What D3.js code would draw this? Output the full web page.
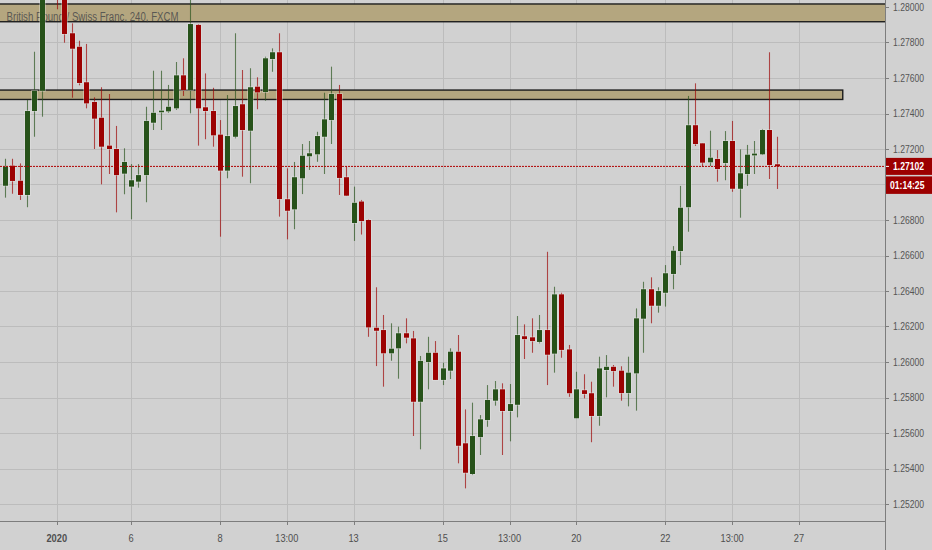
<!DOCTYPE html>
<html><head><meta charset="utf-8">
<script src="https://cdn.jsdelivr.net/npm/d3@7/dist/d3.min.js"></script>
<style>html,body{margin:0;padding:0;background:#d1d1d1;overflow:hidden}</style>
</head><body>
<svg id="c" width="932" height="550"></svg>
<script>
// ---- data (GBP/CHF, 240 min, FXCM) ----
const opens = [1.26993,1.27106,1.27021,1.26941,1.27414,1.27528,1.28090,1.28120,1.28060,1.27852,
1.27776,1.27576,1.27465,1.27376,1.27219,1.27200,1.27061,1.26988,1.27016,1.27053,
1.27348,1.27407,1.27412,1.27429,1.27615,1.27532,1.27899,1.27435,1.27414,1.27281,
1.27078,1.27269,1.27452,1.27303,1.27551,1.27521,1.27707,1.27745,1.26917,1.26860,
1.27035,1.27159,1.27170,1.27269,1.27363,1.27510,1.27041,1.26783,1.26904,1.26800,
1.26193,1.26180,1.26049,1.26077,1.26162,1.26133,1.25776,1.26000,1.26052,1.25899,
1.25951,1.26058,1.25542,1.25369,1.25577,1.25673,1.25782,1.25846,1.25724,1.25759,
1.26145,1.26139,1.26113,1.26180,1.26047,1.26381,1.26071,1.25683,1.25841,1.25824,
1.25696,1.25955,1.25973,1.25951,1.25825,1.25936,1.26244,1.26410,1.26317,1.26390,
1.26496,1.26625,1.26872,1.27334,1.27232,1.27125,1.27144,1.27121,1.27245,1.26976,
1.27059,1.27164,1.27170,1.27307,1.27114];
const highs = [1.27145,1.27145,1.27119,1.27476,1.27748,1.28120,1.28160,1.28180,1.28080,1.27908,
1.27810,1.27792,1.27491,1.27548,1.27510,1.27330,1.27204,1.27115,1.27115,1.27438,
1.27641,1.27641,1.27561,1.27690,1.27711,1.28045,1.27904,1.27626,1.27545,1.27363,
1.27504,1.27852,1.27645,1.27655,1.27604,1.27720,1.27767,1.27852,1.27091,1.27127,
1.27228,1.27245,1.27297,1.27517,1.27664,1.27561,1.27104,1.26988,1.26913,1.26804,
1.26421,1.26265,1.26218,1.26199,1.26246,1.26175,1.26034,1.26142,1.26118,1.25996,
1.26077,1.26152,1.25733,1.25771,1.25701,1.25870,1.25893,1.25880,1.25876,1.26259,
1.26212,1.26246,1.26265,1.26621,1.26424,1.26390,1.26096,1.25945,1.25931,1.25889,
1.26030,1.26039,1.25983,1.25976,1.26030,1.26302,1.26452,1.26477,1.26421,1.26546,
1.26653,1.26992,1.27499,1.27570,1.27232,1.27303,1.27194,1.27301,1.27358,1.27198,
1.27223,1.27245,1.27313,1.27745,1.27269];
const lows = [1.26926,1.26948,1.26913,1.26872,1.27269,1.27382,1.28050,1.27987,1.27799,1.27489,
1.27559,1.27429,1.27200,1.27001,1.27059,1.26843,1.26945,1.26804,1.26982,1.26900,
1.27307,1.27307,1.27404,1.27420,1.27499,1.27401,1.27219,1.27255,1.27213,1.26706,
1.27035,1.27260,1.27044,1.27007,1.27424,1.27472,1.27635,1.26819,1.26691,1.26748,
1.26946,1.27082,1.27128,1.27059,1.27228,1.26941,1.26935,1.26682,1.26718,1.26142,
1.25977,1.25861,1.26007,1.25906,1.26105,1.25583,1.25508,1.25846,1.25899,1.25870,
1.25904,1.25429,1.25288,1.25363,1.25476,1.25635,1.25754,1.25476,1.25553,1.25688,
1.26017,1.26052,1.26105,1.25870,1.25940,1.26024,1.25804,1.25683,1.25795,1.25548,
1.25641,1.25801,1.25861,1.25782,1.25750,1.25726,1.26052,1.26218,1.26278,1.26312,
1.26410,1.26546,1.26734,1.27217,1.27100,1.27104,1.27016,1.27024,1.26959,1.26813,
1.26992,1.27059,1.27166,1.27031,1.26975];
const closes = [1.27100,1.27020,1.26941,1.27414,1.27528,1.28090,1.28130,1.28060,1.27848,1.27765,
1.27572,1.27457,1.27371,1.27213,1.27200,1.27053,1.27127,1.27024,1.27053,1.27358,
1.27404,1.27416,1.27438,1.27615,1.27532,1.27904,1.27429,1.27414,1.27277,1.27078,
1.27273,1.27442,1.27307,1.27548,1.27519,1.27711,1.27745,1.26918,1.26852,1.27041,
1.27162,1.27176,1.27273,1.27367,1.27510,1.27037,1.26937,1.26897,1.26794,1.26195,
1.26176,1.26049,1.26075,1.26162,1.26137,1.25776,1.26006,1.26052,1.25899,1.25964,
1.26058,1.25528,1.25376,1.25583,1.25677,1.25786,1.25846,1.25724,1.25763,1.26152,
1.26129,1.26118,1.26180,1.26041,1.26381,1.26068,1.25824,1.25846,1.25820,1.25696,
1.25964,1.25973,1.25949,1.25825,1.25940,1.26246,1.26410,1.26317,1.26400,1.26500,
1.26627,1.26869,1.27334,1.27228,1.27123,1.27151,1.27087,1.27245,1.26976,1.27063,
1.27168,1.27174,1.27307,1.27110,1.27102];

const priceTicks = [1.252,1.254,1.256,1.258,1.260,1.262,1.264,1.266,1.268,1.270,1.272,1.274,1.276,1.278,1.280];
const timeTickIndex = [7,17,29,38,47,59,68,77,89,98,107];
const timeTickLabels = ["2020","6","8","13:00","13","15","13:00","20","22","13:00","27"];
const zoneLow  = [1.27917, 1.27479];
const zoneHigh = [1.28017, 1.27532];
const zoneEndIndex = [null, 112.9];
const lastPrice = 1.27102;
const countdown = "01:14:25";
const title = "British Pound / Swiss Franc, 240, FXCM";

// ---- layout ----
const W = 932, H = 550, plotW = 885, plotH = 521;
const svg = d3.select("#c");
const x = d3.scaleLinear().domain([0, opens.length - 1]).range([4.8, 776.7]);
const y = d3.scaleLinear().domain([1.252, 1.28]).range([504, 7]);
const GREEN = "#27521a", RED = "#9c0202";
const FONT = "'Liberation Sans', Arial, sans-serif";

svg.append("rect").attr("width", W).attr("height", H).attr("fill", "#d1d1d1");

const defs = svg.append("defs");
defs.append("clipPath").attr("id", "plot").append("rect")
  .attr("x", 0).attr("y", 0).attr("width", plotW).attr("height", plotH);

const plot = svg.append("g").attr("clip-path", "url(#plot)");

// grid
plot.append("g").selectAll("line").data(priceTicks).join("line")
  .attr("x1", 0).attr("x2", plotW)
  .attr("y1", d => Math.round(y(d)) + 0.5).attr("y2", d => Math.round(y(d)) + 0.5)
  .attr("stroke", "#bcbcbc").attr("stroke-width", 1);
plot.append("g").selectAll("line").data(timeTickIndex).join("line")
  .attr("x1", d => Math.round(x(d)) + 0.5).attr("x2", d => Math.round(x(d)) + 0.5)
  .attr("y1", 0).attr("y2", plotH)
  .attr("stroke", "#bcbcbc").attr("stroke-width", 1);

// zones
const zones = zoneLow.map((lo, i) => ({lo, hi: zoneHigh[i], end: zoneEndIndex[i]}));
plot.append("g").selectAll("rect").data(zones).join("rect")
  .attr("x", -2)
  .attr("width", d => (d.end === null ? plotW + 2 : x(d.end)) + 2)
  .attr("y", d => y(d.hi))
  .attr("height", d => y(d.lo) - y(d.hi))
  .attr("fill", "#b4a67f").attr("stroke", "#1c1c1c").attr("stroke-width", 1.4);

// title
const t = plot.append("text").attr("x", 6.5).attr("y", 20.5)
  .attr("font-family", FONT).attr("font-size", 12.5).attr("fill", "#4e4e4e")
  .attr("fill-opacity", 0.9).text(title);
t.attr("textLength", 172).attr("lengthAdjust", "spacingAndGlyphs");

// candles
const candles = opens.map((o, i) => ({i, o, h: highs[i], l: lows[i], c: closes[i]}));
const cg = plot.append("g");
const bw = 5;
cg.selectAll("line.wick").data(candles).join("line").attr("class", "wick")
  .attr("x1", d => Math.round(x(d.i)) + 0.5).attr("x2", d => Math.round(x(d.i)) + 0.5)
  .attr("y1", d => y(d.h)).attr("y2", d => y(d.l))
  .attr("stroke", d => d.c >= d.o ? GREEN : RED).attr("stroke-opacity", 0.68)
  .attr("stroke-width", 1.1);
cg.selectAll("rect.halo").data(candles).join("rect").attr("class", "halo")
  .attr("x", d => Math.round(x(d.i)) + 0.5 - bw / 2 - 0.8)
  .attr("width", bw + 1.6)
  .attr("y", d => y(Math.max(d.o, d.c)) - 0.8)
  .attr("height", d => Math.max(1, Math.abs(y(d.o) - y(d.c))) + 1.6)
  .attr("fill", "#ececec").attr("fill-opacity", 0.45);
cg.selectAll("rect.body").data(candles).join("rect").attr("class", "body")
  .attr("x", d => Math.round(x(d.i)) + 0.5 - bw / 2)
  .attr("width", bw)
  .attr("y", d => y(Math.max(d.o, d.c)))
  .attr("height", d => Math.max(1.2, Math.abs(y(d.o) - y(d.c))))
  .attr("fill", d => d.c >= d.o ? GREEN : RED);

// last price line
plot.append("line").attr("x1", 0).attr("x2", plotW)
  .attr("y1", y(lastPrice)).attr("y2", y(lastPrice))
  .attr("stroke", "#b00000").attr("stroke-width", 1).attr("stroke-dasharray", "2,1");

// axes lines
svg.append("line").attr("x1", 0).attr("x2", plotW).attr("y1", plotH + 0.5).attr("y2", plotH + 0.5)
  .attr("stroke", "#7d7d7d").attr("stroke-width", 1);
svg.append("line").attr("x1", plotW + 0.5).attr("x2", plotW + 0.5).attr("y1", 0).attr("y2", H)
  .attr("stroke", "#7d7d7d").attr("stroke-width", 1);

function squeeze(sel, f) {
  sel.each(function () {
    const len = this.getComputedTextLength();
    d3.select(this).attr("textLength", len * f).attr("lengthAdjust", "spacingAndGlyphs");
  });
}

// price label boxes region (labels that collide with it are hidden, like the reference)
const ly = y(lastPrice);
const boxTop = ly - 8.5, boxBottom = ly + 27.5;
const visibleTicks = priceTicks.filter(d => y(d) + 5 < boxTop || y(d) - 5 > boxBottom);

// right axis
const ra = svg.append("g");
ra.selectAll("line").data(priceTicks).join("line")
  .attr("x1", plotW + 1).attr("x2", plotW + 4)
  .attr("y1", d => Math.round(y(d)) + 0.5).attr("y2", d => Math.round(y(d)) + 0.5)
  .attr("stroke", "#7d7d7d");
const rl = ra.selectAll("text").data(visibleTicks).join("text")
  .attr("x", 893).attr("y", d => y(d)).attr("dy", "0.36em")
  .attr("font-family", FONT).attr("font-size", 10).attr("fill", "#555")
  .text(d => d3.format(".5f")(d));
squeeze(rl, 0.86);

// bottom axis
const ba = svg.append("g");
ba.selectAll("line").data(timeTickIndex).join("line")
  .attr("x1", d => Math.round(x(d)) + 0.5).attr("x2", d => Math.round(x(d)) + 0.5)
  .attr("y1", plotH + 1).attr("y2", plotH + 4).attr("stroke", "#7d7d7d");
const bl = ba.selectAll("text").data(timeTickIndex).join("text")
  .attr("x", d => x(d)).attr("y", 541.5).attr("text-anchor", "middle")
  .attr("font-family", FONT).attr("font-size", 10.5).attr("fill", "#4f4f4f")
  .attr("font-weight", (d, i) => i === 0 ? "bold" : "normal")
  .text((d, i) => timeTickLabels[i]);
squeeze(bl, 0.88);

// price label + countdown
svg.append("rect").attr("x", plotW + 1).attr("y", boxTop).attr("width", W - plotW - 1).attr("height", 17)
  .attr("fill", "#9c0000");
svg.append("rect").attr("x", plotW + 1).attr("y", ly + 10).attr("width", W - plotW - 1).attr("height", 17.5)
  .attr("fill", "#9c0000");
svg.append("line").attr("x1", plotW + 1).attr("x2", plotW + 4).attr("y1", ly).attr("y2", ly)
  .attr("stroke", "#ffffff");
const pl = svg.append("text").attr("x", 893).attr("y", ly).attr("dy", "0.36em")
  .attr("font-family", FONT).attr("font-size", 10).attr("font-weight", "bold").attr("fill", "#fff")
  .text(d3.format(".5f")(lastPrice));
const cl = svg.append("text").attr("x", 890).attr("y", ly + 18.8).attr("dy", "0.36em")
  .attr("font-family", FONT).attr("font-size", 10).attr("font-weight", "bold").attr("fill", "#fff")
  .text(countdown);
squeeze(pl, 0.86); squeeze(cl, 0.86);
</script>
</body></html>
